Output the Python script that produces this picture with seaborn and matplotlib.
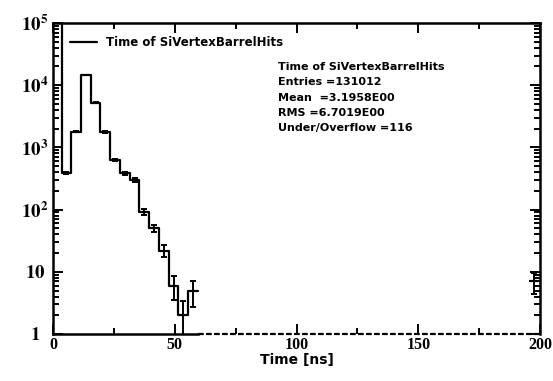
import numpy as np
import pandas as pd
import seaborn as sns
from matplotlib import pyplot as plt
from matplotlib.ticker import FixedLocator, FuncFormatter, LogLocator, NullFormatter

# bin edges (4 ns wide) and counts
bin_start = -0.5
bin_width = 4.0
counts = [105600, 387, 1790, 14600, 5230, 1760, 627, 383, 299, 92, 50, 22, 6, 2, 5]
counts += [0] * 34
counts += [7]
hist_label = 'Time of SiVertexBarrelHits'
stats_lines = ['Time of SiVertexBarrelHits', 'Entries =131012', 'Mean  =3.1958E00',
               'RMS =6.7019E00', 'Under/Overflow =116']
x_ticks = [0, 50, 100, 150, 200]
x_minor = [25, 75, 125, 175]
y_ticks = [1, 10, 100, 1000, 10000, 100000]
y_ticklabels = ['$\\mathbf{1}$', '$\\mathbf{10}$', '$\\mathbf{10^2}$', '$\\mathbf{10^3}$',
                '$\\mathbf{10^4}$', '$\\mathbf{10^5}$']

counts = np.array(counts, dtype=float)
edges = bin_start + bin_width * np.arange(len(counts) + 1)
centers = 0.5 * (edges[:-1] + edges[1:])
df = pd.DataFrame({'t': centers, 'n': counts})

sns.set_style('ticks')
plt.rcParams['font.family'] = ['DejaVu Sans']
plt.rcParams['font.weight'] = 'bold'
plt.rcParams['mathtext.fontset'] = 'stix'
plt.rcParams['text.color'] = 'black'
plt.rcParams['axes.labelcolor'] = 'black'

fig = plt.figure(figsize=(5.53, 3.81), dpi=100)
ax = fig.add_axes([53 / 553, 1 - 334 / 381, 487 / 553, 311 / 381])

nz = df[df.n > 0]
n_run = 15  # contiguous filled bins from the start
first = nz.iloc[:n_run]
sns.histplot(data=first, x='t', weights='n', bins=list(edges[:n_run + 1]), element='step',
             fill=False, color='black', linewidth=1.6, ax=ax, label=hist_label)

# empty bins drawn dashed along the floor (the frame is open there)
empty = df[df.n == 0]
x_empty0 = empty.t.min() - bin_width / 2
ax.hlines(1.0, x_empty0, 200, colors='black', linestyles=(0, (2.6, 1.0)),
          linewidth=1.6, clip_on=False, zorder=5)

last = nz.iloc[n_run:]
ax.hlines(last.n, last.t - bin_width / 2, last.t + bin_width / 2, colors='black', linewidth=1.6)

vis = nz[nz.n < 1e5]
ax.errorbar(vis.t, vis.n, yerr=np.sqrt(vis.n), fmt='none', ecolor='black', elinewidth=1.4,
            capsize=2.5, capthick=1.4)

ax.set_yscale('log')
ax.set_xlim(0, 200)
ax.set_ylim(1, 1e5)

ax.xaxis.set_major_locator(FixedLocator(x_ticks))
ax.xaxis.set_minor_locator(FixedLocator(x_minor))
ax.yaxis.set_major_locator(FixedLocator(y_ticks))
ax.yaxis.set_major_formatter(FuncFormatter(lambda v, p: y_ticklabels[y_ticks.index(int(round(v)))]
                                           if int(round(v)) in y_ticks else ''))
ax.yaxis.set_minor_locator(LogLocator(base=10, subs=np.arange(2, 10)))
ax.yaxis.set_minor_formatter(NullFormatter())

ax.tick_params(which='both', direction='in', top=True, right=True, width=1.4, colors='black',
               labelsize=11.5, labelfontfamily='Liberation Serif')
ax.tick_params(axis='y', labelsize=13.5)
ax.tick_params(axis='x', pad=2.5)
ax.tick_params(axis='y', pad=13)
ax.tick_params(which='major', length=7.5)
ax.tick_params(which='minor', length=4)
plt.setp(ax.get_yticklabels(), ha='center')
for s in ax.spines.values():
    s.set_visible(True)
    s.set_linewidth(1.8)
    s.set_color('black')
ax.spines['bottom'].set_bounds(0, x_empty0)

ax.set_xlabel('Time [ns]', fontsize=10, fontweight='bold', labelpad=0)
ax.set_ylabel('')

ax.legend(loc='upper left', bbox_to_anchor=(0.0255, 0.973), frameon=False,
          prop={'weight': 'bold', 'size': 8.5},
          handlelength=2.3, handletextpad=0.75, borderaxespad=0)

for i, line in enumerate(stats_lines):
    ax.text(278 / 553, 1 - (67 + 15.3 * i) / 381, line, transform=fig.transFigure,
            fontsize=8, fontweight='bold', va='center', ha='left')

fig.savefig('out.png', dpi=100)
